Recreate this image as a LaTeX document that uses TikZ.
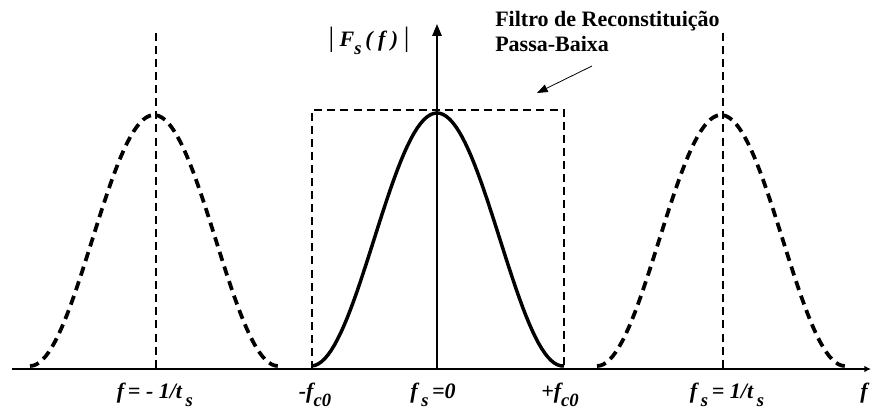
\documentclass[tikz,border=0pt]{standalone}
\usepackage{fontspec}
\setmainfont{Liberation Serif}
\usetikzlibrary{arrows.meta}
\newcommand{\lowsub}[1]{\raisebox{-0.75ex}{\fontsize{14}{14}\selectfont #1}}
\newcommand{\absbar}{{\normalfont\fontsize{21}{21}\selectfont|}}

\begin{document}
\begin{tikzpicture}[x=0.75pt,y=-0.75pt,
  lbl/.style={font=\fontsize{16.5}{18}\selectfont\bfseries\itshape, inner sep=0pt, anchor=base},
  title/.style={font=\fontsize{16.5}{19}\selectfont\bfseries, inner sep=0pt, anchor=base west},
  guide/.style={line width=1.1pt, dash pattern=on 6pt off 3.8pt},
  image/.style={line width=2.8pt, dash pattern=on 7pt off 4.5pt},
  spectrum/.style={line width=2.6pt}]
  \useasboundingbox (0,0) rectangle (871,409);
  % axes
  \coordinate (fstart) at (12,369);
  \coordinate (fend) at (871,369);
  \coordinate (orig) at (437,369);
  \coordinate (ytop) at (437,24);
  \draw[line width=2pt,-{Latex[length=5pt,width=5pt]}] (fstart) -- (fend);
  \draw[line width=1.5pt,-{Triangle[length=9pt,width=7pt]}] (orig) -- (ytop);
  % guides at -1/ts and 1/ts
  \foreach \name/\x in {gl/156,gr/723}{
    \coordinate (\name top) at (\x,33);
    \coordinate (\name bot) at (\x,369);
    \draw[guide] (\name top) -- (\name bot);
  }
  % low-pass filter box
  \coordinate (boxsw) at (312,369);
  \coordinate (boxne) at (564,110);
  \draw[guide] (boxsw) |- (boxne) -- (564,369);
  % spectra
  \draw[spectrum,domain=312:564,samples=80]
    plot (\x,{366-253*(1+cos((\x-437)/126*180))/2});
  \foreach \c in {154,721}{
    \draw[image,domain=\c-124:\c+124,samples=80]
      plot (\x,{366-251*(1+cos((\x-\c)/124*180))/2});
  }
  % labels on the f axis
  \node[lbl] (lneg) at (155,399) {f\,= - 1/t\,\lowsub{s}};
  \node[lbl] (lcneg) at (315,399) {-f\lowsub{c0}};
  \node[lbl] (lzero) at (433,399) {f\,\lowsub{s}\,=0};
  \node[lbl] (lcpos) at (560,399) {+f\lowsub{c0}};
  \node[lbl] (lpos) at (727,399) {f\,\lowsub{s}\,= 1/t\,\lowsub{s}};
  \node[lbl] (lf) at (864,399) {f};
  \node[lbl] (lamp) at (369,47) {\absbar\ F\lowsub{s}\,( f )\ \absbar};
  % filter label
  \node[title] (filtro) at (495,27) {Filtro de Reconstituição};
  \node[title] (passa) at (495,52) {Passa-Baixa};
  \coordinate (ptail) at (592,66);
  \coordinate (ptip) at (537,93);
  \draw[line width=0.6pt,-{Triangle[length=8pt,width=6pt]}] (ptail) -- (ptip);
\end{tikzpicture}
\end{document}
